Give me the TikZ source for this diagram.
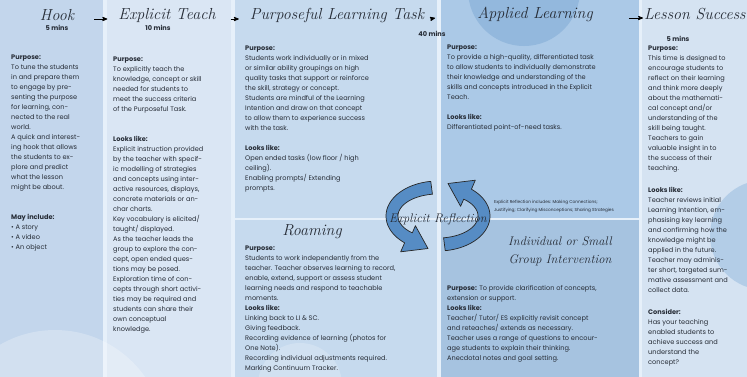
\documentclass[tikz,border=0pt]{standalone}
\usepackage{fontspec}
\newfontfamily\bodyfont{Poppins}
\usetikzlibrary{arrows,calc,positioning}
\definecolor{ink}{HTML}{262C36}
\definecolor{pagebg}{HTML}{C4D7ED}
\definecolor{hookbg}{HTML}{C3D6EC}
\definecolor{teachbg}{HTML}{DAE6F4}
\definecolor{taskbg}{HTML}{C6DAEE}
\definecolor{appliedbg}{HTML}{ABC9E7}
\definecolor{successbg}{HTML}{D5E3F2}
\definecolor{sepline}{HTML}{E6F0FA}
\definecolor{ribbon}{HTML}{568CC4}
\definecolor{blob}{HTML}{93B8DD}
\tikzset{%
  flow/.style={thick,-stealth'},
  ttl/.style={font=\itshape\fontsize{16}{16}\selectfont,text=ink,inner sep=1pt},
  mins/.style={font=\bodyfont\bfseries\fontsize{6.6}{7}\selectfont,text=ink,inner sep=0pt},
  txt/.style={font=\bodyfont\fontsize{6.6}{10}\selectfont,text=ink,align=left,
    anchor=north west,inner sep=0pt},
}

\begin{document}
\begin{tikzpicture}[x=1pt,y=-1pt,
    panel/.style={draw=sepline,line width=2pt},
    rib/.style={fill=ribbon,draw=black!85,line width=0.7pt,line join=round}]
  \useasboundingbox (0,0) rectangle (747,376);
  \fill[pagebg] (0,0) rectangle (747,376);

  \filldraw[panel,fill=hookbg] (-2,-2) rectangle (104,378);
  \filldraw[panel,fill=teachbg] (106,-2) rectangle (232,378);
  \filldraw[panel,fill=taskbg] (234,-2) rectangle (438,219);
  \filldraw[panel,fill=taskbg] (234,219) rectangle (438,378);
  \filldraw[panel,fill=appliedbg] (440,-2) rectangle (640,219);
  \filldraw[panel,fill=appliedbg!97!black] (440,219) rectangle (640,378);
  \filldraw[panel,fill=successbg] (641,-2) rectangle (749,378);

  \fill[blob] (524,-10) circle (56);
  \fill[white,opacity=.25] (55,440) circle (110);
  \fill[white,opacity=.2] (300,385) circle (42);
  \fill[blob,opacity=.5] (765,235) circle (55);

  \node[ttl] (hook) at (57,15) {Hook};
  \node[ttl] (teach) at (167,15) {Explicit Teach};
  \node[ttl] (task) at (337,15) {Purposeful Learning Task};
  \node[ttl] (applied) at (535,14) {Applied Learning};
  \node[ttl,anchor=west] (success) at (643,14) {Lesson Success};

  \foreach \a/\b/\s/\e in {hook/teach/19/10,teach/task/14/10,task/applied/5/41,applied/success/35/0}
    \draw[flow] ([xshift=\s pt,yshift=-4pt]\a.east) -- ([xshift=-\e pt,yshift=-4pt]\b.west);

  \node[mins,below=3pt of hook] (m1) {5 mins};
  \node[mins,below=2pt of teach,xshift=-9pt] (m2) {10 mins};
  \node[mins] (m3) at (432,34) {40 mins};
  \node[mins] (m4) at (678,39) {5 mins};

  \node[txt] (hooktxt) at (11,54.5) {\textbf{Purpose:}\\
    To tune the students\\ in and prepare them\\ to engage by pre-\\
    senting the purpose\\ for learning, con-\\ nected to the real\\ world.\\
    A quick and interest-\\ ing hook that allows\\ the students to ex-\\
    plore and predict\\ what the lesson\\ might be about.\\[20pt]
    \textbf{May include:}\\ \textbullet\ A story\\ \textbullet\ A video\\
    \textbullet\ An object};

  \node[txt] (teachtxt) at (113,56.5) {\textbf{Purpose:}\\
    To explicitly teach the\\ knowledge, concept or skill\\ needed for students to\\
    meet the success criteria\\ of the Purposeful Task.\\[20pt]
    \textbf{Looks like:}\\ Explicit instruction provided\\ by the teacher with specif-\\
    ic modelling of strategies\\ and concepts using inter-\\ active resources, displays,\\
    concrete materials or an-\\ char charts.\\ Key vocabulary is elicited/\\
    taught/ displayed.\\ As the teacher leads the\\ group to explore the con-\\
    cept, open ended ques-\\ tions may be posed.\\ Exploration time of con-\\
    cepts through short activi-\\ ties may be required and\\ students can share their\\
    own conceptual\\ knowledge.};

  \node[txt] (tasktxt) at (245,45.5) {\textbf{Purpose:}\\
    Students work individually or in mixed\\ or similar ability groupings on high\\
    quality tasks that support or reinforce\\ the skill, strategy or concept.\\
    Students are mindful of the Learning\\ Intention and draw on that concept\\
    to allow them to experience success\\ with the task.\\[10pt]
    \textbf{Looks like:}\\ Open ended tasks (low floor / high\\ ceiling).\\
    Enabling prompts/ Extending\\ prompts.};

  \node[ttl] (roam) at (312,232) {Roaming};
  \node[txt] (roamtxt) at (245,245.5) {\textbf{Purpose:}\\
    Students to work independently from the\\ teacher. Teacher observes learning to record,\\
    enable, extend, support or assess student\\ learning needs and respond to teachable\\
    moments.\\ \textbf{Looks like:}\\ Linking back to LI \& SC.\\ Giving feedback.\\
    Recording evidence of learning (photos for\\ One Note).\\
    Recording individual adjustments required.\\ Marking Continuum Tracker.};

  \node[txt] (appliedtxt) at (447,45) {\textbf{Purpose:}\\
    To provide a high-quality, differentiated task\\ to allow students to individually demonstrate\\
    their knowledge and understanding of the\\ skills and concepts introduced in the Explicit\\
    Teach.\\[10pt]
    \textbf{Looks like:}\\ Differentiated point-of-need tasks.};

  \node[ttl,font=\itshape\fontsize{12.5}{18}\selectfont,align=center] (group) at (560,251)
    {Individual or Small\\ Group Intervention};
  \node[txt] (grouptxt) at (447,285.5) {\textbf{Purpose:} To provide clarification of concepts,\\
    extension or support.\\ \textbf{Looks like:}\\
    Teacher/ Tutor/ ES explicitly revisit concept\\ and reteaches/ extends as necessary.\\
    Teacher uses a range of questions to encour-\\ age students to explain their thinking.\\
    Anecdotal notes and goal setting.};

  \node[txt] (successtxt) at (648,45.5) {\textbf{Purpose:}\\
    This time is designed to\\ encourage students to\\ reflect on their learning\\
    and think more deeply\\ about the mathemati-\\ cal concept and/or\\
    understanding of the\\ skill being taught.\\ Teachers to gain\\
    valuable insight in to\\ the success of their\\ teaching.\\[12pt]
    \textbf{Looks like:}\\ Teacher reviews initial\\ Learning Intention, em-\\
    phasising key learning\\ and confirming how the\\ knowledge might be\\
    applied in the future.\\ Teacher may adminis-\\ ter short, targeted sum-\\
    mative assessment and\\ collect data.\\[12pt]
    \textbf{Consider:}\\ Has your teaching\\ enabled students to\\
    achieve success and\\ understand the\\ concept?};

  \foreach \r in {0,180} {
    \begin{scope}[rotate around={\r:(438,216)}]
      \filldraw[rib] plot[domain=262:130,samples=40,variable=\t]
          ({438+52*cos(\t)},{216+35*sin(\t)})
        -- (400.7,251.8) -- (428,248.5) -- (415.4,225.7)
        -- plot[domain=130:262,samples=40,variable=\t]
          ({438+40*cos(\t)},{216+22*sin(\t)}) -- cycle;
    \end{scope}
  }

  \node[ttl,font=\itshape\fontsize{12.5}{12}\selectfont] (refl) at (438,219) {Explicit Reflection};
  \node[txt,font=\bodyfont\fontsize{4.3}{8}\selectfont,anchor=west] (reflnote) at (494,206)
    {Explicit Reflection includes: Making Connections;\\
     Justifying; Clarifying Misconceptions; Sharing Strategies};
\end{tikzpicture}
\end{document}
